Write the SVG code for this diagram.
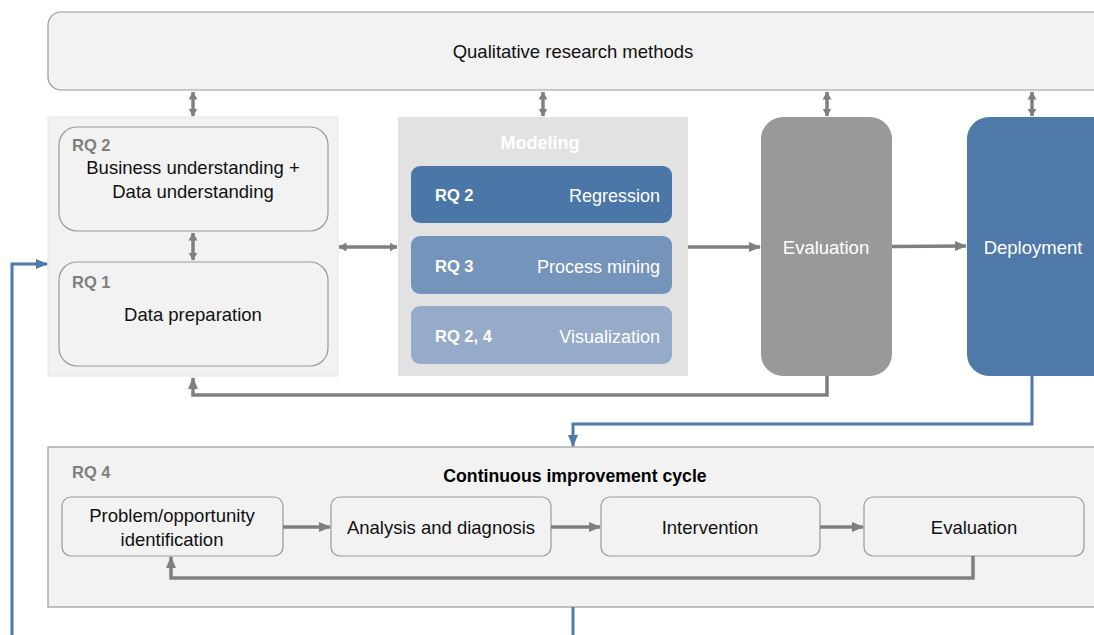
<svg xmlns="http://www.w3.org/2000/svg" width="1094" height="635" viewBox="0 0 1094 635">
<defs>
<marker id="ag" markerUnits="userSpaceOnUse" markerWidth="12" markerHeight="12" viewBox="0 0 12 12" refX="11" refY="6" orient="auto-start-reverse"><path d="M0,1 L12,6 L0,11 Z" fill="#7f7f7f"/></marker>
<marker id="as" markerUnits="userSpaceOnUse" markerWidth="8" markerHeight="10" viewBox="0 0 8 10" refX="7.5" refY="5" orient="auto-start-reverse"><path d="M0,0.5 L8,5 L0,9.5 Z" fill="#7f7f7f"/></marker>
<marker id="ab" markerUnits="userSpaceOnUse" markerWidth="12" markerHeight="12" viewBox="0 0 12 12" refX="11" refY="6" orient="auto-start-reverse"><path d="M0,1 L12,6 L0,11 Z" fill="#4e79a8"/></marker>
</defs>
<style>
text{font-family:"Liberation Sans",Arial,sans-serif;}
.t{font-size:18.5px;fill:#111;text-anchor:middle;}
.w{font-size:18.5px;fill:#fff;text-anchor:middle;}
.wr{font-size:18px;fill:#fff;text-anchor:end;}
.wb{font-size:16.5px;fill:#fff;font-weight:bold;}
.rq{font-size:16.5px;fill:#7f7f7f;font-weight:bold;}
.box{fill:#f2f2f2;stroke:#999;stroke-width:1.2;}
.g{fill:none;stroke:#7f7f7f;stroke-width:3.5;}
.b{fill:none;stroke:#4e79a8;stroke-width:3;}
</style>
<rect width="1094" height="635" fill="#fff"/>
<g id="qualitative">
<rect class="box" x="48" y="12" width="1060" height="78" rx="13"/>
<text class="t" x="573" y="58" font-size="19">Qualitative research methods</text>
</g>
<g id="understanding-panel">
<rect x="48" y="117" width="290" height="259" fill="#f2f2f2" stroke="#e6e6e6" stroke-width="1"/>
</g>
<g id="business-understanding">
<rect class="box" x="59" y="127" width="269" height="104" rx="18"/>
<text class="rq" x="72" y="151">RQ 2</text>
<text class="t" x="193" y="174">Business understanding +</text>
<text class="t" x="193" y="198">Data understanding</text>
</g>
<g id="data-preparation">
<rect class="box" x="59" y="262" width="269" height="104" rx="18"/>
<text class="rq" x="72" y="288">RQ 1</text>
<text class="t" x="193" y="321">Data preparation</text>
</g>
<g id="modeling">
<rect x="398" y="117" width="290" height="259" fill="#e2e2e2"/>
<text x="540" y="149" font-size="18" font-weight="bold" fill="#fff" text-anchor="middle">Modeling</text>
</g>
<g id="regression">
<rect x="411" y="166" width="261" height="57" rx="9" fill="#4b76a8"/>
<text class="wb" x="435" y="201">RQ 2</text>
<text class="wr" x="660" y="202">Regression</text>
</g>
<g id="process-mining">
<rect x="411" y="236" width="261" height="58" rx="9" fill="#7594bc"/>
<text class="wb" x="435" y="272">RQ 3</text>
<text class="wr" x="660" y="273">Process mining</text>
</g>
<g id="visualization">
<rect x="411" y="306" width="261" height="58" rx="9" fill="#95abc9"/>
<text class="wb" x="435" y="342">RQ 2, 4</text>
<text class="wr" x="660" y="343">Visualization</text>
</g>
<g id="evaluation">
<rect x="761" y="117" width="131" height="259" rx="22" fill="#999"/>
<text class="w" x="826" y="254">Evaluation</text>
</g>
<g id="deployment">
<rect x="967" y="117" width="150" height="259" rx="22" fill="#4e79a8"/>
<text class="w" x="1033" y="254">Deployment</text>
</g>
<g id="improvement-cycle">
<rect class="box" x="48" y="447" width="1060" height="160"/>
<text class="rq" x="72" y="478">RQ 4</text>
<text x="575" y="482" font-size="17.7" font-weight="bold" fill="#000" text-anchor="middle">Continuous improvement cycle</text>
</g>
<g id="problem-identification">
<rect class="box" x="62" y="497" width="221" height="59" rx="9"/>
<text class="t" x="172" y="522">Problem/opportunity</text>
<text class="t" x="172" y="546">identification</text>
</g>
<g id="analysis">
<rect class="box" x="331" y="497" width="220" height="59" rx="9"/>
<text class="t" x="441" y="534">Analysis and diagnosis</text>
</g>
<g id="intervention">
<rect class="box" x="601" y="497" width="219" height="59" rx="9"/>
<text class="t" x="710" y="534">Intervention</text>
</g>
<g id="cycle-evaluation">
<rect class="box" x="864" y="497" width="220" height="59" rx="9"/>
<text class="t" x="974" y="534">Evaluation</text>
</g>
<g id="connectors">
<line class="g" x1="193" y1="92" x2="193" y2="116" marker-start="url(#as)" marker-end="url(#as)"/>
<line class="g" x1="543" y1="92" x2="543" y2="116" marker-start="url(#as)" marker-end="url(#as)"/>
<line class="g" x1="827" y1="92" x2="827" y2="116" marker-start="url(#as)" marker-end="url(#as)"/>
<line class="g" x1="1032" y1="92" x2="1032" y2="116" marker-start="url(#as)" marker-end="url(#as)"/>
<line class="g" x1="193" y1="233" x2="193" y2="260" marker-start="url(#as)" marker-end="url(#as)"/>
<line class="g" x1="339" y1="247" x2="397" y2="247" marker-start="url(#as)" marker-end="url(#as)"/>
<line class="g" x1="688" y1="247" x2="760" y2="247" marker-end="url(#ag)"/>
<line class="g" x1="892" y1="246.5" x2="966" y2="246" marker-end="url(#ag)"/>
<polyline class="g" points="827,376 827,395 193,395 193,378" marker-end="url(#ag)"/>
<polyline class="b" points="1032,376 1032,424 573,424 573,446" marker-end="url(#ab)"/>
<line class="b" x1="573" y1="607" x2="573" y2="635"/>
<polyline class="b" points="12,635 12,264 47,264" marker-end="url(#ab)"/>
<line class="g" x1="283" y1="527" x2="330" y2="527" marker-end="url(#ag)"/>
<line class="g" x1="551" y1="527" x2="600" y2="527" marker-end="url(#ag)"/>
<line class="g" x1="820" y1="527" x2="863" y2="527" marker-end="url(#ag)"/>
<polyline class="g" points="973,556 973,578 171,578 171,557" marker-end="url(#ag)"/>
</g>
</svg>
